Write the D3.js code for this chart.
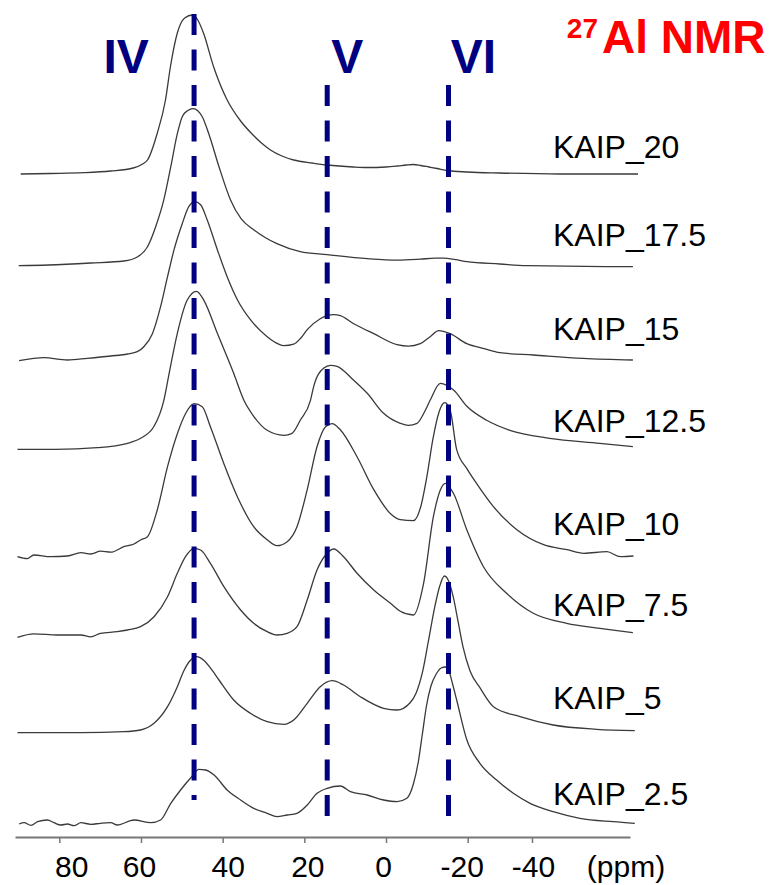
<!DOCTYPE html>
<html>
<head>
<meta charset="utf-8">
<script src="https://cdn.jsdelivr.net/npm/d3@7"></script>
<style>
  body { margin: 0; background: #fff; }
  svg { display: block; }
</style>
</head>
<body>
<svg id="chart" width="776" height="885"></svg>
<script>
// 27Al MAS NMR spectra of the KAIP series, stacked; each spectrum is [ppm, intensity (a.u.)]
const samples = ["KAIP_20", "KAIP_17.5", "KAIP_15", "KAIP_12.5", "KAIP_10", "KAIP_7.5", "KAIP_5", "KAIP_2.5"];

// vertical stacking offset of each spectrum (a.u.)
const stackOffsets = [663, 571.3, 476.3, 387.7, 280.3, 199.7, 104.3, 13];

const spec20 = [[89.4,0],[82.1,0.5],[74.0,1.3],[67.4,3],[61.9,6],[59.6,10],[58.4,14],[56.0,41],[54.0,74],[52.8,107],[51.1,141],[49.3,156],[47.4,159],[46.1,154],[44.7,141],[42.2,107],[38.9,74],[35.6,53],[32.8,40],[30.5,31],[28.3,24],[25.5,18],[22.6,14],[18.0,11],[14.4,9],[8.0,7],[4.6,6.5],[0.0,7],[-2.8,8],[-5.0,9],[-6.7,9.5],[-8.5,8.5],[-10.5,7],[-12.5,5.5],[-15.0,3.5],[-20.0,2],[-30.0,1],[-48.7,0],[-73.0,0]];

const spec175 = [[89.9,0],[82.6,0.7],[72.3,2.7],[64.2,4.7],[60.8,9],[58.4,19],[56.4,39],[54.4,66],[52.7,99],[51.1,132],[49.9,149],[48.6,155],[47.2,157],[46.1,155],[45.0,149],[43.4,132],[40.9,99],[38.1,66],[35.5,47],[32.4,36],[29.5,28],[26.7,22],[21.0,14],[14.4,11],[4.6,7],[-2.7,5.5],[-8.4,6.5],[-12.0,7.5],[-14.1,7.5],[-17.0,6],[-19.8,4],[-30.0,1.7],[-38.3,0],[-71.4,-1]];

const spec15 = [[89.8,0],[83.7,3],[78.0,0.7],[73.1,2.4],[67.4,4.7],[63.3,6.7],[60.9,9],[59.3,14],[57.2,27],[55.2,54],[53.5,84],[51.9,111],[49.9,137],[48.3,154],[46.8,159],[45.4,156],[43.8,141],[41.3,111],[38.9,84],[36.4,61],[33.2,41],[29.1,24],[26.5,17],[25.0,15],[22.6,16.5],[20.8,23],[19.3,31],[16.1,42],[12.8,46],[11.2,45],[7.9,37],[3.0,27],[-2.7,16],[-5.5,14.5],[-8.4,17],[-10.8,24],[-12.9,30],[-15.7,27],[-19.8,17],[-25.1,12],[-30.0,8],[-40.4,5.7],[-55.9,2.4],[-71.4,0.7]];

const spec125 = [[90.2,0],[80.9,0],[70.7,1.6],[63.3,6],[60.1,11],[56.8,23],[54.4,49],[53.1,76],[51.1,116],[48.7,149],[46.4,158],[44.6,149],[41.3,116],[37.3,76],[34.8,49],[32.4,33],[29.1,19],[25.0,14],[23.0,16],[21.0,29],[18.5,49],[17.7,63],[15.3,81],[13.6,84],[12.0,83],[7.9,69],[4.6,56],[0.6,36],[-3.5,26],[-5.5,24],[-7.6,26],[-9.5,38],[-10.8,49],[-13.3,66],[-16.6,59],[-19.8,43],[-25.9,29],[-33.1,19],[-45.5,11],[-61.1,6],[-71.4,2.6]];

const spec10 = [[90.2,0],[87.8,-2],[86.2,1.7],[82.1,0],[78.0,0.7],[74.7,4],[72.3,2.7],[69.9,5.5],[67.4,4.5],[64.2,10],[61.7,12.7],[60.1,16.7],[58.4,20],[56.0,47],[53.5,90],[51.1,123],[49.1,143],[47.0,153],[45.0,150],[43.0,130],[39.7,93],[36.4,60],[32.4,30],[29.1,17],[26.7,11],[24.2,15],[21.8,30],[19.3,67],[16.9,110],[14.8,130],[13.2,133],[11.2,127],[7.1,100],[3.0,67],[-1.1,43],[-3.5,37],[-6.7,36],[-8.5,50],[-10.0,80],[-11.5,118],[-13.0,145],[-14.4,154],[-15.8,145],[-17.3,107],[-19.8,88],[-22.8,73],[-28.0,50],[-35.3,27],[-43.6,12],[-50.9,7],[-56.1,3.4],[-63.3,5],[-67.5,0],[-71.6,0.7]];

const spec75 = [[90.2,0],[86.2,3.5],[80.4,2.3],[74.7,2.3],[72.3,0.5],[69.9,4],[65.8,5.6],[63.3,7.3],[60.1,10.6],[56.8,20.6],[53.5,40.6],[51.1,64],[49.1,80.6],[47.0,89],[45.4,87.3],[43.0,74],[39.7,50.6],[35.6,27.3],[32.4,14],[29.1,5.6],[26.7,2.3],[24.2,4],[21.8,10.6],[19.3,37.3],[16.9,67.3],[14.8,82.3],[12.8,88.3],[10.4,80.6],[7.1,64],[3.0,47.3],[-1.1,34],[-3.5,26],[-6.7,22.3],[-9.2,54],[-11.6,120.6],[-13.3,147.3],[-14.5,154],[-16.5,144],[-19.8,107.3],[-24.9,70.6],[-32.1,44],[-40.4,24],[-50.8,14],[-61.1,9],[-71.4,4.6]];

const spec5 = [[90.2,0],[82.1,0],[74.7,0],[64.2,1],[60.1,2.7],[56.8,9.4],[53.5,26],[51.1,46],[49.5,62],[48.0,72],[46.4,76],[44.5,72],[42.5,62],[40.9,52.7],[37.3,32.7],[33.2,19.4],[29.1,11],[25.0,8.4],[22.6,12.7],[19.3,29.4],[16.1,46],[13.2,52],[10.4,47.7],[6.3,36],[0.6,24.4],[-2.7,22.7],[-5.9,30],[-7.4,40],[-8.9,60],[-10.4,92],[-11.9,125],[-13.1,146],[-14.3,156.7],[-15.5,150],[-16.5,135],[-17.7,110],[-18.9,85],[-20.7,62],[-23.8,45],[-28.0,26],[-36.3,16],[-46.6,7.7],[-60.1,3.4],[-72.0,2]];

const spec25 = [[89.8,0],[88.6,1.3],[86.9,-1.3],[85.3,2.3],[82.9,4],[81.3,1.3],[79.6,-1],[78.0,0],[76.4,-1.7],[74.7,1.3],[72.3,-0.3],[69.9,0.7],[67.4,1.3],[65.8,-1],[61.7,4],[57.6,1.3],[55.2,4],[52.7,20.7],[50.3,34],[47.9,45.7],[45.8,54.7],[44.2,54],[42.1,49],[38.9,34],[35.6,24],[32.4,15.7],[29.1,10.7],[26.7,7.3],[24.2,9],[21.8,10.7],[19.3,19],[16.9,30.7],[14.4,35.7],[11.2,38],[8.7,32.3],[4.6,29],[0.6,24],[-2.7,22.3],[-5.1,25.7],[-6.7,40],[-7.9,62],[-8.9,90],[-9.9,118],[-11.0,138],[-12.3,150],[-13.5,156],[-14.5,157],[-15.4,153],[-16.3,140],[-17.3,124],[-19.8,84],[-23.8,60.7],[-29.0,44],[-34.2,30.7],[-39.4,20.7],[-46.6,12.3],[-54.9,5.7],[-65.3,2.3],[-72.0,0.7]];

const spectra = [spec20, spec175, spec15, spec125, spec10, spec75, spec5, spec25];

// chemical-shift axis
const tickValues = [80, 60, 40, 20, 0, -20, -40];

// Al coordination sites: IV, V, VI
const siteLabels = ["IV", "V", "VI"];
const sitePositions = [47.0, 14.4, -15.3];

// ---------------- layout ----------------
const svg = d3.select("#chart");
const W = 776, H = 885;
svg.append("rect").attr("width", W).attr("height", H).attr("fill", "#fff");

const FONT = "'Liberation Sans', Arial, Helvetica, sans-serif";

// chemical shift runs right-to-left; the printed axis is piecewise
const x = d3.scaleLinear()
  .domain([90.8, 80, -20, -40, -70.5])
  .range([15, 59.3, 467.7, 532, 630]);

const y = d3.scaleLinear().domain([0, 837]).range([837, 0]);

// spectra
const line = d3.line().curve(d3.curveMonotoneX);
const traces = svg.append("g").attr("class", "spectra");
spectra.forEach((s, i) => {
  const off = stackOffsets[i];
  traces.append("path")
    .attr("d", line(s.map(d => [x(d[0]), y(off + d[1])])))
    .attr("fill", "none")
    .attr("stroke", "#3a3a3a")
    .attr("stroke-width", 1.3)
    .attr("stroke-linejoin", "round");
});

// sample labels
const labelLift = [16, 20, 21, 17, 22, 21, 24, 19];
svg.append("g").selectAll("text")
  .data(samples)
  .join("text")
  .attr("x", 553)
  .attr("y", (d, i) => y(stackOffsets[i]) - labelLift[i])
  .attr("font-family", FONT)
  .attr("font-size", 32)
  .attr("fill", "#000")
  .text(d => d);

// dashed site markers
const siteTop = [14, 85, 85];
const siteBottom = [800, 817, 817];
const markers = svg.append("g").attr("class", "sites");
sitePositions.forEach((p, i) => {
  markers.append("line")
    .attr("x1", x(p)).attr("x2", x(p))
    .attr("y1", siteTop[i]).attr("y2", siteBottom[i])
    .attr("stroke", "#000080")
    .attr("stroke-width", 5)
    .attr("stroke-dasharray", "21 14.5");
});

const siteDx = [-68, 20, 25];
svg.append("g").selectAll("text")
  .data(siteLabels)
  .join("text")
  .attr("x", (d, i) => x(sitePositions[i]) + siteDx[i])
  .attr("y", 73)
  .attr("text-anchor", "middle")
  .attr("font-family", FONT)
  .attr("font-weight", "bold")
  .attr("font-size", 48)
  .attr("fill", "#000080")
  .text(d => d);

// title
svg.append("text")
  .attr("x", 598).attr("y", 38)
  .attr("text-anchor", "end")
  .attr("font-family", FONT).attr("font-weight", "bold")
  .attr("font-size", 28).attr("fill", "#ff0000")
  .text("27");
svg.append("text")
  .attr("x", 602).attr("y", 53)
  .attr("font-family", FONT).attr("font-weight", "bold")
  .attr("font-size", 46).attr("fill", "#ff0000")
  .text("Al NMR");

// x axis
const tickLabelDx = [12, -2, 5, 3, -3, -6, 1];
const axis = svg.append("g")
  .attr("transform", `translate(0,${y(0)})`)
  .call(d3.axisBottom(x)
    .tickValues(tickValues)
    .tickSize(6)
    .tickSizeOuter(0)
    .tickPadding(13)
    .tickFormat(d => String(d)));
axis.select(".domain").attr("stroke", "#777").attr("stroke-width", 2);
axis.selectAll(".tick line").attr("stroke", "#777").attr("stroke-width", 1.5);
axis.selectAll(".tick text")
  .attr("dx", (d, i) => tickLabelDx[i])
  .attr("font-family", FONT)
  .attr("font-size", 30)
  .attr("fill", "#000");

svg.append("text")
  .attr("x", 626).attr("y", 877)
  .attr("text-anchor", "middle")
  .attr("font-family", FONT)
  .attr("font-size", 30)
  .attr("fill", "#000")
  .text("(ppm)");
</script>
</body>
</html>
